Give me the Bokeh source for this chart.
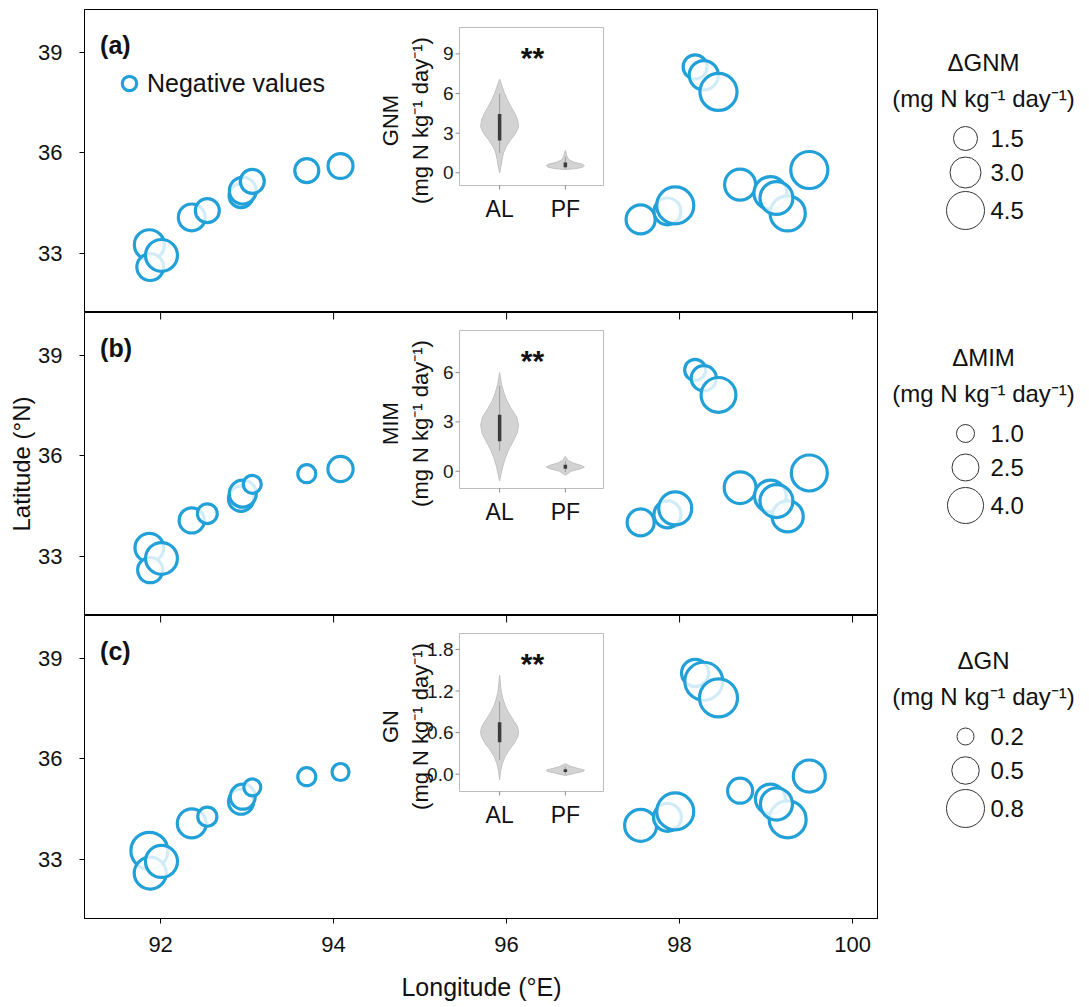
import math
from bokeh.plotting import figure
from bokeh.layouts import column, row
from bokeh.models import (Range1d, FixedTicker, Legend, LegendItem,
                          ColumnDataSource, LinearInterpolator, Label)
from bokeh.core.properties import value, field
from bokeh.embed import file_html
from bokeh.resources import INLINE

# ---------------- data ----------------
lon = [91.87, 91.88, 92.01, 92.36, 92.54, 92.93, 92.95, 93.06, 93.69, 94.08,
       98.18, 98.28, 98.45, 97.55, 97.86, 97.95, 98.70, 99.05, 99.25, 99.12, 99.50]
lat = [33.25, 32.58, 32.93, 34.07, 34.27, 34.72, 34.87, 35.15, 35.47, 35.61,
       38.58, 38.33, 37.83, 34.01, 34.25, 34.43, 35.05, 34.80, 34.19, 34.65, 35.49]
d_gnm = [2.8, 2.1, 3.2, 2.1, 0.4, 1.3, 2.1, 0.1, 0.2, 1.7,
         0.9, 2.6, 4.3, 2.6, 2.1, 4.3, 3.0, 3.4, 3.9, 3.4, 4.3]
d_mim = [2.8, 2.2, 3.3, 2.2, 1.3, 2.2, 2.5, 0.8, 0.5, 2.2,
         1.5, 2.2, 3.8, 2.5, 2.5, 3.5, 3.3, 3.3, 3.2, 3.5, 4.2]
d_gn = [0.77, 0.63, 0.63, 0.54, 0.26, 0.43, 0.43, 0.14, 0.23, 0.20,
        0.49, 0.80, 0.83, 0.63, 0.51, 0.77, 0.43, 0.57, 0.77, 0.63, 0.63]

leg_gnm = [1.5, 3.0, 4.5]
leg_mim = [1.0, 2.5, 4.0]
leg_gn = [0.2, 0.5, 0.8]

lon_ticks = [92, 94, 96, 98, 100]
lat_ticks = [33, 36, 39]

groups = ["AL", "PF"]
# violin profiles (value, relative half-width)
gnm_al_y = [0.0, 0.5, 1.0, 1.5, 2.0, 2.5, 3.0, 3.5, 4.0, 4.5, 5.0, 5.5, 6.0, 6.5, 7.1]
gnm_al_w = [0, 0.07, 0.13, 0.2, 0.35, 0.58, 0.85, 1.0, 0.95, 0.8, 0.6, 0.42, 0.27, 0.14, 0]
gnm_pf_y = [0.25, 0.32, 0.42, 0.55, 0.65, 0.8, 1.0, 1.2, 1.4, 1.7]
gnm_pf_w = [0, 0.55, 0.9, 1.0, 0.9, 0.45, 0.18, 0.1, 0.06, 0]
gnm_box = {"AL": (2.45, 4.45, 1.5, 6.0), "PF": (0.42, 0.78, 0.3, 1.2)}

mim_al_y = [-0.6, -0.2, 0.3, 0.8, 1.3, 1.8, 2.3, 2.8, 3.3, 3.8, 4.3, 4.8, 5.3, 6.0]
mim_al_w = [0, 0.07, 0.17, 0.3, 0.47, 0.7, 0.92, 1.0, 0.9, 0.62, 0.38, 0.22, 0.1, 0]
mim_pf_y = [-0.25, 0.0, 0.15, 0.25, 0.35, 0.5, 0.65, 0.9]
mim_pf_w = [0, 0.3, 0.8, 1.0, 0.85, 0.4, 0.15, 0]
mim_box = {"AL": (1.83, 3.43, 1.25, 5.2), "PF": (0.15, 0.4, -0.05, 0.6)}

gn_al_y = [-0.08, 0.05, 0.15, 0.25, 0.35, 0.45, 0.55, 0.62, 0.7, 0.8, 0.9, 1.0, 1.1, 1.2, 1.43]
gn_al_w = [0, 0.06, 0.14, 0.28, 0.5, 0.78, 0.97, 1.0, 0.92, 0.68, 0.45, 0.28, 0.16, 0.08, 0]
gn_pf_y = [-0.02, 0.02, 0.04, 0.06, 0.08, 0.11, 0.15]
gn_pf_w = [0, 0.6, 0.95, 1.0, 0.7, 0.3, 0]
gn_box = {"AL": (0.46, 0.75, 0.2, 1.05), "PF": (0.03, 0.07, 0.0, 0.11)}

gnm_inset_ticks = [0, 3, 6, 9]
mim_inset_ticks = [0, 3, 6]
gn_inset_ticks = [0.0, 0.6, 1.2, 1.8]

# ---------------- style / layout ----------------
FONT = "Liberation Sans"
BLUE = "#22a0d8"
FW, FH = 794, 303
LEFT = 84
X_RANGE = (91.12, 100.3)
Y_RANGE = (31.22, 40.3)
BX0, BX1, BY0, BY1 = 375, 519, 18, 176   # inset box inside frame (px)
IX = (0.39, 2.58)
CAT_POS = [1, 2]
KEY_Y = [121, 155, 193]
UNITS = "(mg N kg\u207b\u00b9 day\u207b\u00b9)"


def add_inset(p, name, ylim, ticks, tick_fmt, profiles, boxes):
    xr0, xr1 = IX
    yr0, yr1 = ylim
    kx = (BX1 - BX0) / (xr1 - xr0)
    ky = (BY1 - BY0) / (yr1 - yr0)
    p.extra_x_ranges = {"ix": Range1d(xr0 - BX0 / kx, xr1 + (FW - BX1) / kx)}
    p.extra_y_ranges = {"iy": Range1d(yr0 - (FH - BY1) / ky, yr1 + BY0 / ky)}
    rn = dict(x_range_name="ix", y_range_name="iy")
    p.quad(left=[xr0], right=[xr1], bottom=[yr0], top=[yr1], fill_color="white",
           line_color="#bdbdbd", line_width=1, **rn)
    tl = 4
    n = len(ticks)
    p.segment(x0=[xr0 - tl / kx] * n, x1=[xr0] * n, y0=ticks, y1=ticks,
              line_color="#8a8a8a", line_width=1, **rn)
    p.segment(x0=CAT_POS, x1=CAT_POS, y0=[yr0 - tl / ky] * 2, y1=[yr0] * 2,
              line_color="#8a8a8a", line_width=1, **rn)
    hw = 19.0 / kx
    for c, g, (vy, vw) in zip(CAT_POS, groups, profiles):
        xs = [c - w * hw for w in vw] + [c + w * hw for w in reversed(vw)]
        ys = list(vy) + list(reversed(vy))
        p.patch(xs, ys, fill_color="#d3d3d3", line_color="#c2c2c2", line_width=1, **rn)
        q1, q3, lo, hi = boxes[g]
        p.segment(x0=[c], x1=[c], y0=[lo], y1=[hi], line_color="#9c9c9c", line_width=1, **rn)
        p.segment(x0=[c], x1=[c], y0=[q1], y1=[q3], line_color="#3c3c3c", line_width=3.5,
                  line_cap="butt", **rn)
    tf = value(FONT)
    p.text(x=[xr0] * n, y=ticks, text=[tick_fmt.format(t) for t in ticks], x_offset=-6,
           text_align="right", text_baseline="middle", text_font=tf, text_font_size="19px",
           text_color="#1a1a1a", **rn)
    p.text(x=CAT_POS, y=[yr0] * 2, text=groups, y_offset=10, text_align="center",
           text_baseline="top", text_font=tf, text_font_size="23px", text_color="#111111", **rn)
    p.text(x=[xr0], y=[yr1], text=[name], x_offset=-69, y_offset=93, angle=math.pi / 2,
           text_align="center", text_baseline="middle", text_font=tf, text_font_size="22px",
           text_color="#111111", **rn)
    p.text(x=[xr0], y=[yr1], text=[UNITS], x_offset=-39, y_offset=93, angle=math.pi / 2,
           text_align="center", text_baseline="middle", text_font=tf, text_font_size="22px",
           text_color="#111111", **rn)
    p.text(x=[(CAT_POS[0] + CAT_POS[1]) / 2], y=[yr1], text=["**"], y_offset=30,
           text_align="center", text_baseline="middle", text_font=tf, text_font_size="30px",
           text_font_style="bold", text_color="#111111", **rn)


def make_panel(vals, interp, tag, top_ticks, bottom_axis, ylabel, top_border):
    p = figure(frame_width=FW, frame_height=FH, x_range=Range1d(*X_RANGE),
               y_range=Range1d(*Y_RANGE), output_backend="svg", toolbar_location=None,
               min_border_left=LEFT, min_border_right=0, min_border_top=top_border,
               min_border_bottom=0, x_axis_location="below" if bottom_axis else None)
    p.grid.visible = False
    p.outline_line_color = "black"
    p.outline_line_alpha = 1
    p.outline_line_width = 1
    y = p.yaxis[0]
    y.ticker = FixedTicker(ticks=lat_ticks)
    y.major_tick_out = 5
    y.major_tick_in = 0
    y.minor_tick_line_color = None
    y.major_label_standoff = 17
    y.major_label_text_font = FONT
    y.major_label_text_font_size = "22px"
    y.major_label_text_color = "#111111"
    y.axis_line_color = "black"
    y.major_tick_line_color = "black"
    if ylabel:
        y.axis_label = ylabel
        y.axis_label_text_font = FONT
        y.axis_label_text_font_size = "24px"
        y.axis_label_text_font_style = "normal"
        y.axis_label_standoff = 0
        y.axis_label_text_color = "#111111"
    if bottom_axis:
        x = p.xaxis[0]
        x.ticker = FixedTicker(ticks=lon_ticks)
        x.major_tick_out = 5
        x.major_tick_in = 0
        x.minor_tick_line_color = None
        x.major_label_standoff = 13
        x.major_label_text_font = FONT
        x.major_label_text_font_size = "22px"
        x.major_label_text_color = "#111111"
        x.axis_label = "Longitude (\u00b0E)"
        x.axis_label_text_font = FONT
        x.axis_label_text_font_size = "25px"
        x.axis_label_text_font_style = "normal"
        x.axis_label_standoff = 18
        x.axis_label_text_color = "#111111"
    if top_ticks:
        ppu = FH / (Y_RANGE[1] - Y_RANGE[0])
        n = len(lon_ticks)
        p.segment(x0=lon_ticks, x1=lon_ticks, y0=[Y_RANGE[1]] * n,
                  y1=[Y_RANGE[1] - 7 / ppu] * n, line_color="black", line_width=1)
    src = ColumnDataSource(dict(lon=lon, lat=lat, v=vals))
    r = p.scatter("lon", "lat", source=src, marker="circle", size=field("v", interp),
                  line_color=BLUE, line_width=3.2, fill_color="white", fill_alpha=0.8)
    p.add_layout(Label(x=91.30, y=39.25, text=tag, text_font=FONT, text_font_size="25px",
                       text_font_style="bold", text_baseline="middle", text_color="#111111"))
    return p, r


def make_legend(title, leg_vals, interp, height, dy):
    lf = figure(frame_width=203, frame_height=height, x_range=Range1d(0, 203),
                y_range=Range1d(height, 0), output_backend="svg", toolbar_location=None,
                min_border=0, x_axis_location=None, y_axis_location=None)
    lf.grid.visible = False
    lf.outline_line_color = None
    tf = value(FONT)
    lf.text(x=[105], y=[45 + dy], text=[title], text_align="center", text_baseline="middle",
            text_font=tf, text_font_size="24px", text_color="#111111")
    lf.text(x=[105], y=[81 + dy], text=[UNITS], text_align="center", text_baseline="middle",
            text_font=tf, text_font_size="24px", text_color="#111111")
    ky = [k + dy for k in KEY_Y]
    src = ColumnDataSource(dict(x=[87] * len(leg_vals), y=ky, v=leg_vals,
                                t=["{:.1f}".format(v) for v in leg_vals]))
    lf.scatter("x", "y", source=src, marker="circle", size=field("v", interp),
               line_color="#333333", line_width=1, fill_color=None)
    lf.text(x=[112] * len(leg_vals), y=ky, text=src.data["t"], text_align="left",
            text_baseline="middle", text_font=tf, text_font_size="24px", text_color="#111111")
    return lf


i_gnm = LinearInterpolator(x=[1.5, 4.5], y=[24, 38], clip=False)
i_mim = LinearInterpolator(x=[1.0, 4.0], y=[18, 36], clip=False)
i_gn = LinearInterpolator(x=[0.2, 0.8], y=[17, 38], clip=False)

pa, ra = make_panel(d_gnm, i_gnm, "(a)", False, False, None, 9)
add_inset(pa, "GNM", (-0.96, 11.0), gnm_inset_ticks, "{:.0f}",
          [(gnm_al_y, gnm_al_w), (gnm_pf_y, gnm_pf_w)], gnm_box)
leg = Legend(items=[LegendItem(label="Negative values", renderers=[ra])],
             location=(27, FH - 92), glyph_width=36, glyph_height=36, padding=0, margin=0,
             border_line_color=None, background_fill_alpha=0, label_standoff=0,
             label_text_font=FONT, label_text_font_size="25px", label_text_color="#111111")
pa.add_layout(leg)

pb, rb = make_panel(d_mim, i_mim, "(b)", True, False, "Latitude (\u00b0N)", 0)
add_inset(pb, "MIM", (-1.05, 8.56), mim_inset_ticks, "{:.0f}",
          [(mim_al_y, mim_al_w), (mim_pf_y, mim_pf_w)], mim_box)

pc, rc = make_panel(d_gn, i_gn, "(c)", True, True, None, 0)
add_inset(pc, "GN", (-0.25, 2.03), gn_inset_ticks, "{:.1f}",
          [(gn_al_y, gn_al_w), (gn_pf_y, gn_pf_w)], gn_box)

la = make_legend("\u0394GNM", leg_gnm, i_gnm, FH + 9, 8)
lb = make_legend("\u0394MIM", leg_mim, i_mim, FH, 0)
lc = make_legend("\u0394GN", leg_gn, i_gn, FH, 0)

layout = column(row(pa, la), row(pb, lb), row(pc, lc))
open("out.html", "w").write(file_html(layout, INLINE))
